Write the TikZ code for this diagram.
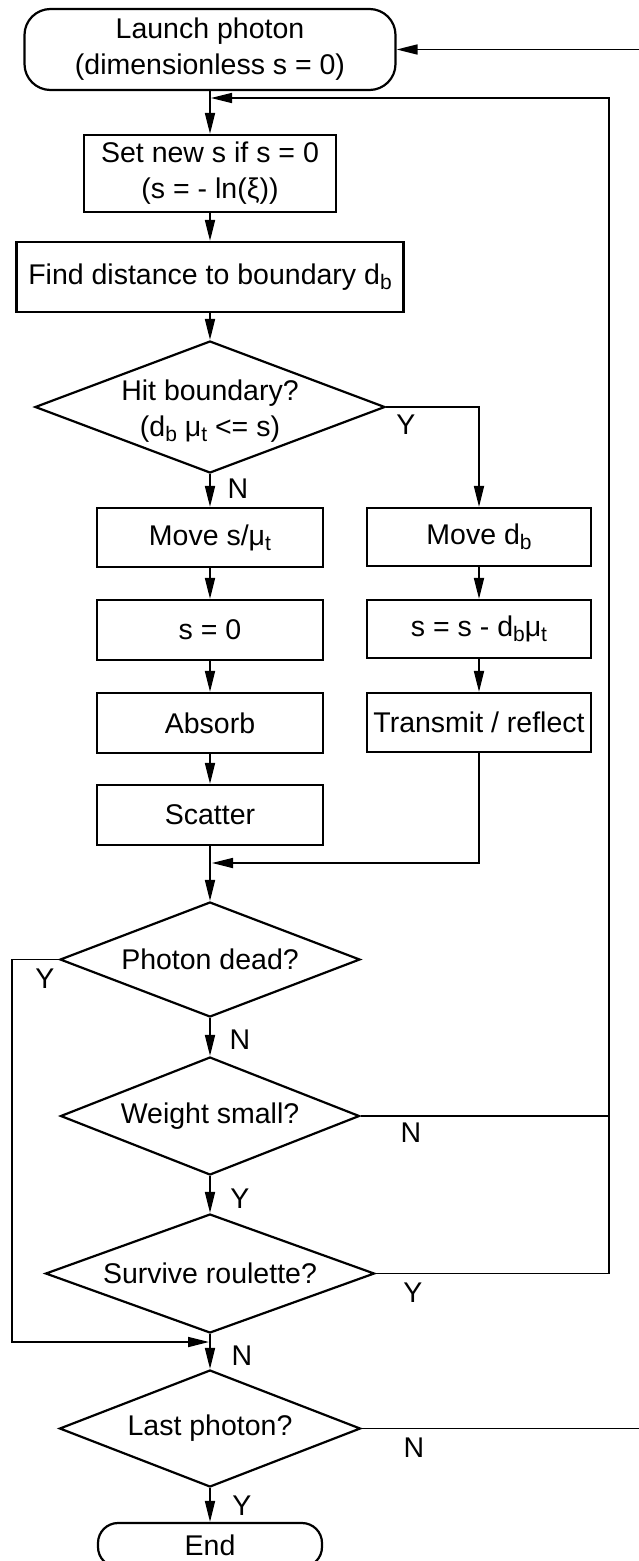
\documentclass[tikz,border=0pt]{standalone}
\usepackage{fontspec}
\setmainfont{Liberation Sans}
\usetikzlibrary{arrows.meta,shapes.geometric,calc}
\newcommand{\sbs}[1]{\raisebox{-5pt}{\fontsize{21}{21}\selectfont #1}}
\begin{document}
\begin{tikzpicture}[x=1pt,y=-1pt,
  font=\fontsize{28.5}{36}\selectfont,
  box/.style={draw, line width=2.2pt, inner sep=0pt, align=center},
  term/.style={box, rounded corners=26pt},
  dia/.style={draw, line width=2.2pt, diamond, inner sep=0pt},
  txt/.style={inner sep=0pt, align=center},
  lbl/.style={inner sep=0pt},
  conn/.style={line width=1.7pt},
  arr/.style={conn, -{Triangle[length=21pt,width=10pt]}}
]
\useasboundingbox (0,0) rectangle (638,1561);

% main column
\node[term, minimum width=371pt, minimum height=81pt] (launch) at (210,49.5) {Launch photon\\(dimensionless s = 0)};
\node[box, minimum width=252pt, minimum height=77pt] (setnew) at (210,173.5) {Set new s if s = 0\\(s = - ln(ξ))};
\node[box, minimum width=387pt, minimum height=70pt] (find) at (210,277) {Find distance to boundary d\sbs{b}};
\node[dia, minimum width=350pt, minimum height=132pt] (hit) at (210,407) {};
\node[txt] (hitT) at (210,411) {Hit boundary?\\(d\sbs{b} μ\sbs{t} <= s)};
\node[box, minimum width=226pt, minimum height=59pt] (moves) at (210,537.5) {Move s/μ\sbs{t}};
\node[box, minimum width=226pt, minimum height=60pt] (szero) at (210,630) {s = 0};
\node[box, minimum width=226pt, minimum height=60pt] (absorb) at (210,723) {Absorb};
\node[box, minimum width=226pt, minimum height=60pt] (scatter) at (210,815) {Scatter};

% right column
\node[box, minimum width=224pt, minimum height=58pt] (movedb) at (479,537) {Move d\sbs{b}};
\node[box, minimum width=224pt, minimum height=58pt] (sdb) at (479,629) {s = s - d\sbs{b}μ\sbs{t}};
\node[box, minimum width=224pt, minimum height=59pt] (trans) at (479,722.5) {Transmit / reflect};

% lower decisions
\node[dia, minimum width=300pt, minimum height=115pt] (dead) at (210,959.5) {};
\node[txt] (deadT) at (210,959.5) {Photon dead?};
\node[dia, minimum width=299pt, minimum height=118pt] (weight) at (210,1116) {};
\node[txt] (weightT) at (210,1116) {Weight small?};
\node[dia, minimum width=329pt, minimum height=119pt] (survive) at (210,1273.5) {};
\node[txt] (surviveT) at (210,1273.5) {Survive roulette?};
\node[dia, minimum width=301pt, minimum height=117pt] (last) at (210,1428.5) {};
\node[txt] (lastT) at (210,1428.5) {Last photon?};
\node[term, rounded corners=20pt, minimum width=224pt, minimum height=44pt] (end) at (210,1545) {End};

% labels
\node[lbl] (hitY) at (406,425) {Y};
\node[lbl] (hitN) at (238,489) {N};
\node[lbl] (deadY) at (45,979) {Y};
\node[lbl] (deadN) at (240,1040) {N};
\node[lbl] (weightN) at (411,1133) {N};
\node[lbl] (weightY) at (240,1199) {Y};
\node[lbl] (surviveY) at (413,1293) {Y};
\node[lbl] (surviveN) at (242,1356) {N};
\node[lbl] (lastN) at (414,1448) {N};
\node[lbl] (lastY) at (242,1506) {Y};

% coordinates
\coordinate (fbX) at (609,0);
\coordinate (fbTop) at (609,98);
\coordinate (fbIn) at (211,98);
\coordinate (mergeA) at (212,863);
\coordinate (leftX) at (12,0);
\coordinate (mergeB) at (209,1342);
\coordinate (outX) at (645,0);

% connectors
\draw[arr] (launch.south) -- (setnew.north);
\draw[arr] (setnew.south) -- (find.north);
\draw[arr] (find.south) -- (hit.north);
\draw[arr] (hit.east) -| (movedb.north);
\draw[arr] (hit.south) -- (moves.north);
\draw[arr] (moves.south) -- (szero.north);
\draw[arr] (szero.south) -- (absorb.north);
\draw[arr] (absorb.south) -- (scatter.north);
\draw[arr] (movedb.south) -- (sdb.north);
\draw[arr] (sdb.south) -- (trans.north);
\draw[arr] (trans.south) |- (mergeA);
\draw[arr] (scatter.south) -- (dead.north);
\draw[arr] (dead.west) -| (leftX |- mergeB) -- (mergeB);
\draw[arr] (dead.south) -- (weight.north);
\draw[conn] (weight.east) -- (weight.east -| fbX);
\draw[arr] (weight.south) -- (survive.north);
\draw[arr] (survive.east) -- (survive.east -| fbX) -- (fbTop) -- (fbIn);
\draw[arr] (survive.south) -- (last.north);
\draw[arr] (last.east) -- (last.east -| outX) -- (outX |- launch.east) -- (launch.east);
\draw[arr] (last.south) -- (end.north);
\end{tikzpicture}
\end{document}
